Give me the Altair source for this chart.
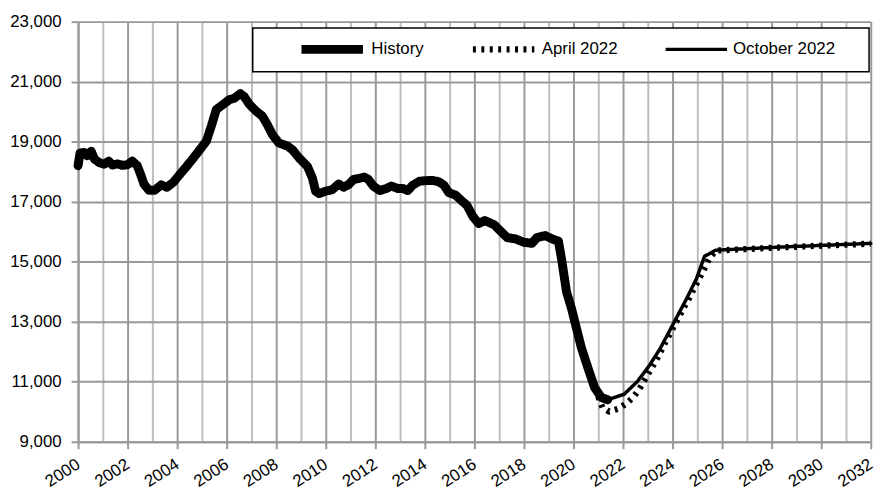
import altair as alt
import pandas as pd

# ---- data ----
hist_years = [2000.0, 2000.08, 2000.25, 2000.36, 2000.53, 2000.66, 2000.86, 2001.06, 2001.24, 2001.39,
              2001.59, 2001.79, 2001.99, 2002.19, 2002.39, 2002.52, 2002.66, 2002.86, 2003.09, 2003.36,
              2003.59, 2003.85, 2004.12, 2004.38, 2004.65, 2004.98, 2005.18, 2005.38, 2005.58, 2005.84,
              2006.11, 2006.31, 2006.55, 2006.71, 2006.91, 2007.17, 2007.44, 2007.64, 2007.84, 2008.1,
              2008.46, 2008.66, 2008.93, 2009.26, 2009.46, 2009.59, 2009.73, 2009.99, 2010.26, 2010.52,
              2010.72, 2010.92, 2011.12, 2011.32, 2011.55, 2011.72, 2011.92, 2012.18, 2012.45, 2012.65,
              2012.91, 2013.11, 2013.31, 2013.51, 2013.78, 2014.04, 2014.31, 2014.57, 2014.77, 2014.97,
              2015.24, 2015.5, 2015.7, 2015.93, 2016.17, 2016.42, 2016.8, 2017.06, 2017.33, 2017.66,
              2017.99, 2018.32, 2018.52, 2018.86, 2019.19, 2019.39, 2019.52, 2019.72, 2019.92, 2020.12,
              2020.32, 2020.58, 2020.85, 2021.12, 2021.38]
hist_vals = [18200, 18620, 18640, 18530, 18680, 18420, 18300, 18250, 18350, 18220,
             18260, 18210, 18230, 18350, 18200, 17920, 17590, 17380, 17380, 17560,
             17480, 17650, 17920, 18170, 18450, 18800, 19020, 19520, 20070, 20230,
             20400, 20450, 20600, 20500, 20250, 20030, 19850, 19570, 19240, 18960,
             18850, 18725, 18450, 18175, 17790, 17350, 17270, 17350, 17400, 17590,
             17480, 17570, 17740, 17770, 17820, 17740, 17520, 17370, 17440, 17520,
             17440, 17440, 17370, 17550, 17680, 17700, 17710, 17660, 17550, 17300,
             17220, 17020, 16880, 16520, 16270, 16370, 16230, 16015, 15800, 15760,
             15650, 15610, 15800, 15870, 15740, 15690, 15080, 13990, 13440, 12780,
             12130, 11470, 10810, 10480, 10400]

apr_years = [2021.0, 2021.17, 2021.44, 2021.8, 2022.13, 2022.41, 2022.63, 2022.83, 2023.0, 2023.2,
             2023.39, 2023.56, 2023.74, 2023.92, 2024.09, 2024.27, 2024.44, 2024.64, 2024.8, 2024.98,
             2025.16, 2025.33, 2025.49, 2025.74, 2028.43, 2032.0]
apr_vals = [10500, 10140, 10005, 10095, 10270, 10480, 10720, 11000, 11240, 11520,
            11800, 12070, 12370, 12635, 12910, 13180, 13450, 13740, 14005, 14290,
            14570, 14845, 15120, 15370, 15480, 15600]

oct_years = [2021.38, 2022.04, 2022.57, 2023.03, 2023.5, 2024.03, 2024.56, 2024.96, 2025.29, 2025.74,
             2028.43, 2032.0]
oct_vals = [10400, 10580, 11000, 11500, 12105, 12930, 13760, 14425, 15180, 15383,
            15490, 15610]

series_names = ["History", "April 2022", "October 2022"]

rows = []
for s, ys, vs in [(series_names[0], hist_years, hist_vals),
                  (series_names[1], apr_years, apr_vals),
                  (series_names[2], oct_years, oct_vals)]:
    for i, (yv, vv) in enumerate(zip(ys, vs)):
        rows.append({"series": s, "year": yv, "value": vv, "order": i})
df = pd.DataFrame(rows)

FONT = "Liberation Sans"

legend = alt.Legend(orient="none", legendX=221, legendY=16, direction="horizontal", title=None,
                    symbolType="stroke", symbolSize=3844, labelFontSize=17, labelFont=FONT,
                    labelColor="black", columnPadding=46, labelOffset=4, labelLimit=300,
                    clipHeight=24)

color = alt.Color("series:N", sort=series_names,
                  scale=alt.Scale(domain=series_names, range=["black", "black", "black"]), legend=legend)
dash = alt.StrokeDash("series:N", sort=series_names,
                      scale=alt.Scale(domain=series_names, range=[[1, 0], [3, 5.5], [1, 0]]), legend=legend)
width = alt.StrokeWidth("series:N", sort=series_names,
                        scale=alt.Scale(domain=series_names, range=[9, 3.5, 2.7]), legend=legend)

even = "datum.value % 2 === 0"
x = alt.X("year:Q", scale=alt.Scale(domain=[2000, 2032], nice=False, zero=False),
          axis=alt.Axis(values=list(range(2000, 2033)), title=None, format="d",
                        labelExpr=f"{even} ? datum.label : ''",
                        labelAngle=-33, labelAlign="right", labelBaseline="middle",
                        labelOverlap=False, labelBound=False, labelPadding=14,
                        grid=True,
                        gridColor={"condition": {"test": even, "value": "#999999"}, "value": "#bdbdbd"},
                        gridWidth=2,
                        tickSize=7, tickWidth=2,
                        tickOpacity={"condition": {"test": even, "value": 1}, "value": 0},
                        tickColor="#999999", domainColor="#999999", domainWidth=2))
y = alt.Y("value:Q", scale=alt.Scale(domain=[9000, 23000], nice=False, zero=False),
          axis=alt.Axis(values=list(range(9000, 23001, 2000)), title=None, format=",.0f",
                        grid=True, gridColor="#999999", gridWidth=2,
                        tickSize=7, tickWidth=2, tickColor="#999999",
                        domainColor="#999999", domainWidth=2, labelPadding=10))

base = alt.Chart(df).encode(x=x, y=y, color=color, strokeDash=dash, strokeWidth=width,
                            order="order:Q")

frame = alt.Chart(alt.Data(values=[{"a": 1}])).mark_rect(
    fill="white", stroke="black", strokeWidth=1.5
).encode(x=alt.value(176.3), x2=alt.value(798.3), y=alt.value(6.5), y2=alt.value(50.5))

hist = base.transform_filter(alt.datum.series == "History").mark_line(strokeCap="round", strokeJoin="round")
apr = base.transform_filter(alt.datum.series == "April 2022").mark_line(strokeCap="butt", strokeJoin="round")
octo = base.transform_filter(alt.datum.series == "October 2022").mark_line(strokeCap="round", strokeJoin="round")

chart = alt.layer(frame, apr, octo, hist).properties(
    width=800, height=424,
    autosize=alt.AutoSizeParams(type="none"),
    padding={"left": 70.7, "top": 11.5, "right": 5.3, "bottom": 52},
    background="white",
).configure_view(strokeWidth=0).configure_axis(
    labelFont=FONT, labelFontSize=17, labelColor="black"
)

chart.save("out.html", embed_options={"renderer": "svg", "actions": False})
